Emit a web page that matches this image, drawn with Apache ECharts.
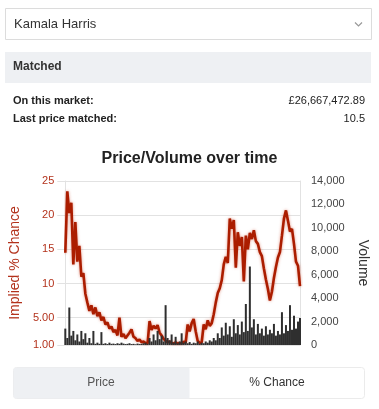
<!DOCTYPE html>
<html>
<head>
<meta charset="utf-8">
<script src="https://cdn.jsdelivr.net/npm/echarts@6/dist/echarts.min.js"></script>
<style>
html,body{margin:0;padding:0;background:#fff;}
#c{width:379px;height:409px;}
</style>
</head>
<body>
<div id="c"></div>
<script>
// Implied % chance (price line), one value per time step
const price = [
14.5,23.5,20.3,21.8,12.8,19.0,13.2,15.5,11.0,11.5,
8.5,7.2,6.0,6.8,5.5,6.5,5.2,5.8,4.6,5.1,
4.0,4.3,3.4,3.7,2.9,3.2,2.4,5.0,2.2,2.6,
2.0,2.4,2.8,3.3,2.2,2.0,1.6,1.8,1.4,1.5,
1.3,1.2,4.5,3.2,3.8,3.4,3.9,2.8,2.4,1.9,
1.6,1.4,1.5,1.3,1.2,1.4,1.2,1.3,1.2,1.5,
1.3,4.0,3.0,4.2,4.8,3.0,1.6,1.3,1.4,4.0,
3.3,4.6,3.8,4.2,5.5,7.2,8.6,9.3,10.5,12.8,
13.9,13.0,19.5,18.0,19.3,12.3,17.5,15.5,16.8,10.3,
17.0,15.0,17.4,16.5,17.8,16.2,15.8,14.6,14.0,12.2,
10.6,9.2,7.5,8.8,10.8,12.4,13.8,14.6,17.0,19.5,
20.7,19.2,17.6,18.0,15.8,13.2,12.6,9.6
];
// Matched volume per time step
const volume = [
1400,600,3200,800,1200,400,900,300,1200,500,
1000,200,600,150,1200,100,200,100,1100,100,
150,80,200,100,120,80,150,100,200,120,
80,100,150,80,100,60,120,80,100,150,
200,100,600,300,900,400,1200,500,800,300,
3400,600,400,900,200,700,150,300,1000,200,
300,150,250,100,200,150,300,100,200,150,
300,200,400,300,600,400,1000,600,1500,800,
1900,900,1600,700,2200,1000,1700,900,2000,1100,
3500,1200,6700,1500,2200,900,1800,1000,1400,800,
1600,900,1300,1000,1800,800,1200,900,2800,1000,
1700,1200,3400,1300,2500,1400,2000,2300
];
const categories = price.map((_, i) => 'T' + (i + 1));
const chanceTicks = [1, 5, 10, 15, 20, 25];

const FONT = 'Arial, "Liberation Sans", sans-serif';
const RED = '#b3321c';

function txt(x, y, text, size, weight, color, align) {
  return {
    type: 'text', x: x, y: y, silent: true,
    style: {
      text: text, font: weight + ' ' + size + 'px ' + FONT, fill: color,
      align: align, verticalAlign: 'middle',
      textAlign: align, textVerticalAlign: 'middle'
    }
  };
}

const chart = echarts.init(document.getElementById('c'), null, {renderer: 'canvas'});
chart.setOption({
  animation: false,
  backgroundColor: '#fff',
  title: {
    text: 'Price/Volume over time', left: 'center', top: 151, padding: 0,
    textStyle: {fontFamily: FONT, fontSize: 16, fontWeight: 'bold', color: '#222'}
  },
  grid: {left: 65, right: 79, top: 181, bottom: 64, containLabel: false},
  xAxis: {
    type: 'category', data: categories, boundaryGap: false,
    axisLine: {show: false}, axisTick: {show: false}, axisLabel: {show: false},
    splitLine: {show: false}
  },
  yAxis: [
    {
      type: 'value', min: 1, max: 25, position: 'left',
      name: 'Implied % Chance', nameLocation: 'middle', nameGap: 38,
      nameTextStyle: {color: RED, fontFamily: FONT, fontSize: 14},
      axisLine: {show: true, lineStyle: {color: '#e2e2e2'}},
      axisTick: {show: true, length: 8, customValues: chanceTicks, lineStyle: {color: '#e2e2e2'}},
      axisLabel: {
        customValues: chanceTicks, color: RED, fontFamily: FONT, fontSize: 11, margin: 11,
        formatter: v => (v < 10 ? v.toFixed(2) : String(v))
      },
      splitLine: {show: true, lineStyle: {color: '#e2e2e2', width: 1}}
    },
    {
      type: 'value', min: 0, max: 14000, interval: 2000, position: 'right',
      name: 'Volume', nameLocation: 'middle', nameGap: 52, nameRotate: -90,
      nameTextStyle: {color: '#333', fontFamily: FONT, fontSize: 14},
      axisLine: {show: true, lineStyle: {color: '#e2e2e2'}},
      axisTick: {show: false},
      axisLabel: {
        color: '#444', fontFamily: FONT, fontSize: 11, margin: 11,
        formatter: v => v.toLocaleString('en-US')
      },
      splitLine: {show: false}
    }
  ],
  series: [
    {
      name: '% Chance', type: 'line', yAxisIndex: 0, data: price,
      showSymbol: false, symbol: 'none',
      lineStyle: {color: '#ab1d00', width: 2.6, shadowBlur: 3, shadowColor: 'rgba(200,60,30,0.55)'},
      z: 2
    },
    {
      name: 'Volume', type: 'bar', yAxisIndex: 1, data: volume,
      barWidth: 2, barGap: '0%', barCategoryGap: '0%', itemStyle: {color: '#2f2f2f'},
      z: 3
    }
  ],
  graphic: [
    {type: 'rect', shape: {x: 5.5, y: 8.5, width: 366, height: 31}, style: {fill: '#fff', stroke: '#dcdcdc', lineWidth: 1}, silent: true},
    txt(14, 24, 'Kamala Harris', 13, 'normal', '#333', 'left'),
    {type: 'polyline', shape: {points: [[355, 22.5], [358.5, 26], [362, 22.5]]}, style: {stroke: '#999', lineWidth: 1.2, fill: null}, silent: true},
    {type: 'rect', shape: {x: 5, y: 52, width: 366, height: 31}, style: {fill: '#eef0f3'}, silent: true},
    txt(13, 67, 'Matched', 12, 'bold', '#333', 'left'),
    txt(13, 101, 'On this market:', 11, 'bold', '#222', 'left'),
    txt(365, 101, '£26,667,472.89', 11, 'normal', '#222', 'right'),
    txt(13, 119, 'Last price matched:', 11, 'bold', '#222', 'left'),
    txt(365, 119, '10.5', 11, 'normal', '#222', 'right'),
    {type: 'rect', shape: {x: 13.5, y: 367.5, width: 351, height: 31, r: 3}, style: {fill: '#fff', stroke: '#ebebeb', lineWidth: 1}, silent: true},
    {type: 'rect', shape: {x: 13.5, y: 367.5, width: 176, height: 31, r: [3, 0, 0, 3]}, style: {fill: '#eef0f3'}, silent: true},
    txt(101, 383, 'Price', 12, 'normal', '#555', 'center'),
    txt(277, 383, '% Chance', 12, 'normal', '#333', 'center')
  ]
});
</script>
</body>
</html>
